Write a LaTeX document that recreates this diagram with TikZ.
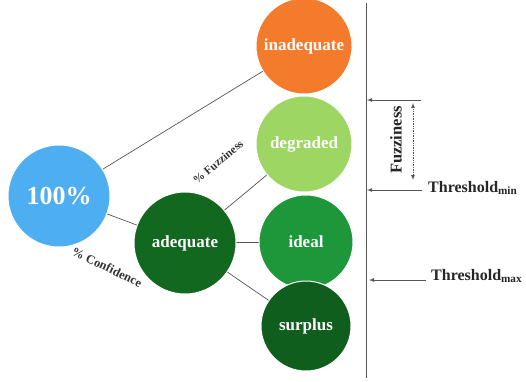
\documentclass[tikz,border=0pt]{standalone}
\usepackage{fontspec}
\setmainfont{Liberation Serif}
\definecolor{cblue}{HTML}{4DAEF2}
\definecolor{corange}{HTML}{F57B2C}
\definecolor{cdeg}{HTML}{9ED664}
\definecolor{cideal}{HTML}{1E963A}
\definecolor{cadeq}{HTML}{12681F}
\definecolor{csurp}{HTML}{0F5E1E}
\definecolor{cline}{HTML}{555555}
\begin{document}
\begin{tikzpicture}[x=1pt,y=-1pt,
  ball/.style={circle,draw=white,line width=1pt,inner sep=0pt,text=white,font=\bfseries\fontsize{17}{19}\selectfont},
  link/.style={draw=cline,line width=0.7pt},
  lab/.style={font=\bfseries\fontsize{12.5}{14}\selectfont,text=black!80}]
\useasboundingbox (0,0) rectangle (526,381);
\fill[white] (0,0) rectangle (526,381);
\node[ball,fill=cblue,minimum size=102pt,font=\bfseries\fontsize{26}{28}\selectfont] (full) at (59,196) {100\%};
\node[ball,fill=cadeq,minimum size=102pt] (adeq) at (185,243) {adequate};
\node[ball,fill=corange,minimum size=96pt] (inad) at (304,46) {inadequate};
\node[ball,fill=cdeg,minimum size=96pt] (deg) at (304,144) {degraded};
\node[ball,fill=cideal,minimum size=94pt] (ideal) at (306,242) {ideal};
\node[ball,fill=csurp,minimum size=90pt] (surp) at (306,326) {surplus};
\draw[link] (full) -- (inad);
\draw[link] (full) -- (adeq);
\draw[link] (adeq) -- (deg);
\draw[link] (adeq) -- (ideal);
\draw[link] (adeq) -- (surp);
\node[lab,rotate=-26] (conf) at (107,267) {\% Confidence};
\node[lab,rotate=40,font=\bfseries\fontsize{11.5}{13}\selectfont] (fuzz) at (218,162) {\% Fuzziness};
% scale
\coordinate (vtop) at (366,3);
\coordinate (vbot) at (366,378);
\draw[cline,line width=0.8pt] (vtop) -- (vbot);
\coordinate (a1s) at (421,100);
\coordinate (a1e) at (367,100);
\coordinate (a2s) at (422,190);
\coordinate (a2e) at (367,190);
\coordinate (a3s) at (426,280);
\coordinate (a3e) at (369,280);
\draw[cline,line width=0.8pt,-latex] (a1s) -- (a1e);
\draw[cline,line width=0.8pt,-latex] (a2s) -- (a2e);
\draw[cline,line width=0.8pt,-latex] (a3s) -- (a3e);
\coordinate (d1) at (413,103);
\coordinate (d2) at (413,180);
\draw[cline,line width=0.7pt,densely dotted,latex-latex] (d1) -- (d2);
\node[font=\bfseries\fontsize{16.5}{18}\selectfont,text=black!85,rotate=90] (fz) at (396,140) {Fuzziness};
\node[font=\bfseries\fontsize{16}{18}\selectfont,text=black!85,anchor=west,inner sep=0pt] (tmin) at (428,188) {Threshold\textsubscript{min}};
\node[font=\bfseries\fontsize{16}{18}\selectfont,text=black!85,anchor=west,inner sep=0pt] (tmax) at (431,276) {Threshold\textsubscript{max}};
\end{tikzpicture}
\end{document}
